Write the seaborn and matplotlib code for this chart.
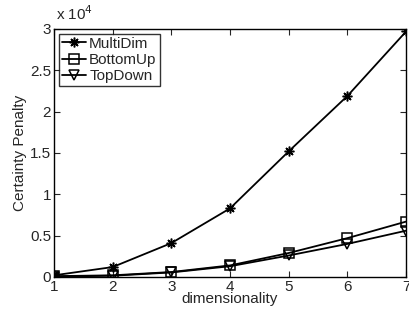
import matplotlib
matplotlib.use("Agg")
import matplotlib.pyplot as plt
import seaborn as sns
import pandas as pd

dims = [1, 2, 3, 4, 5, 6, 7]
multidim = [200, 1200, 4100, 8300, 15200, 21900, 29700]
bottomup = [100, 200, 600, 1400, 2900, 4700, 6700]
topdown = [50, 150, 550, 1300, 2600, 4000, 5600]

df = pd.DataFrame({
    "dimensionality": dims * 3,
    "penalty": multidim + bottomup + topdown,
    "method": ["MultiDim"] * 7 + ["BottomUp"] * 7 + ["TopDown"] * 7,
})

sns.set_style("ticks")
plt.rcParams["font.family"] = ["Liberation Sans", "DejaVu Sans"]
plt.rcParams["xtick.direction"] = "in"
plt.rcParams["ytick.direction"] = "in"

fig = plt.figure(figsize=(4.09, 3.18), dpi=100)
ax = fig.add_axes([0.132, 0.129, 0.861, 0.78])

markers = {"MultiDim": (8, 2, 0), "BottomUp": "s", "TopDown": "v"}
for name in ["MultiDim", "BottomUp", "TopDown"]:
    sub = df[df["method"] == name]
    sns.lineplot(data=sub, x="dimensionality", y="penalty", ax=ax, color="black",
                 marker=markers[name], markersize=7,
                 markerfacecolor="none", markeredgecolor="black",
                 markeredgewidth=1.1, linewidth=1.3, label=name)

ax.set_xlim(1, 7)
ax.set_ylim(0, 30000)
ax.set_xticks(dims)
ax.set_yticks([0, 5000, 10000, 15000, 20000, 25000, 30000])
ax.set_yticklabels(["0", "0.5", "1", "1.5", "2", "2.5", "3"])
ax.text(0.005, 1.025, r"x 10$^4$", transform=ax.transAxes, fontsize=11, va="bottom", ha="left")
ax.set_xlabel("dimensionality", fontsize=11, labelpad=-1)
ax.set_ylabel("Certainty Penalty", fontsize=11, labelpad=2)
ax.tick_params(labelsize=11, length=4, top=True, right=True, pad=2)
for s in ax.spines.values():
    s.set_linewidth(1.0)
    s.set_color("black")

leg = ax.legend(loc="upper left", frameon=True, fancybox=False, edgecolor="black",
                fontsize=11, handlelength=1.6, handletextpad=0.2, borderpad=0.2,
                labelspacing=0.15, borderaxespad=0.3)
leg.get_frame().set_linewidth(1.0)

fig.savefig("out.png", dpi=100)
